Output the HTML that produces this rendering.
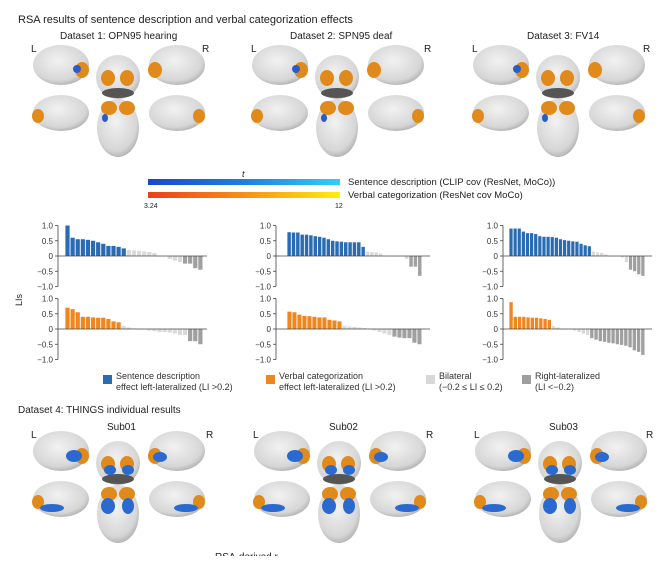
<!DOCTYPE html>
<html><head><meta charset="utf-8"><style>
body{margin:0;background:#fff;width:660px;height:556px;overflow:hidden}
svg{font-family:"Liberation Sans",sans-serif;}
</style></head><body>
<svg id="s" width="660" height="556" viewBox="0 0 660 556" xmlns="http://www.w3.org/2000/svg">
<defs>
<linearGradient id="gb" x1="0" x2="1"><stop offset="0" stop-color="#1848c8"/><stop offset="0.5" stop-color="#1e7fe0"/><stop offset="1" stop-color="#30d0f8"/></linearGradient>
<linearGradient id="go" x1="0" x2="1"><stop offset="0" stop-color="#e8401a"/><stop offset="0.5" stop-color="#f5901a"/><stop offset="1" stop-color="#ffee10"/></linearGradient>
<radialGradient id="br" cx="0.45" cy="0.4" r="0.7"><stop offset="0" stop-color="#f2f2f2"/><stop offset="0.7" stop-color="#d6d6d6"/><stop offset="1" stop-color="#9a9a9a"/></radialGradient>
<g id="brain">
 <ellipse cx="61" cy="65" rx="28" ry="20" fill="url(#br)"/>
 <ellipse cx="82" cy="70" rx="7" ry="8" fill="#e08a1c"/>
 <ellipse cx="77" cy="69" rx="4" ry="4" fill="#2a5cc8"/>
 <ellipse cx="118" cy="77" rx="22" ry="22" fill="url(#br)"/>
 <ellipse cx="108" cy="78" rx="7" ry="8" fill="#e08a1c"/>
 <ellipse cx="127" cy="78" rx="7" ry="8" fill="#e08a1c"/>
 <ellipse cx="118" cy="93" rx="16" ry="5" fill="#555"/>
 <ellipse cx="177" cy="65" rx="28" ry="20" fill="url(#br)"/>
 <ellipse cx="155" cy="70" rx="7" ry="8" fill="#e08a1c"/>
 <ellipse cx="61" cy="113" rx="28" ry="18" fill="url(#br)"/>
 <ellipse cx="38" cy="116" rx="6" ry="7" fill="#e08a1c"/>
 <ellipse cx="118" cy="128" rx="21" ry="29" fill="url(#br)"/>
 <ellipse cx="109" cy="108" rx="8" ry="7" fill="#e08a1c"/>
 <ellipse cx="127" cy="108" rx="8" ry="7" fill="#e08a1c"/>
 <ellipse cx="105" cy="118" rx="3" ry="4" fill="#2a5cc8"/>
 <ellipse cx="177" cy="113" rx="28" ry="18" fill="url(#br)"/>
 <ellipse cx="199" cy="116" rx="6" ry="7" fill="#e08a1c"/>
</g>
<g id="brain2">
 <use href="#brain"/>
 <ellipse cx="74" cy="70" rx="8" ry="6" fill="#2a6ad0"/>
 <ellipse cx="110" cy="84" rx="6" ry="5" fill="#2a6ad0"/>
 <ellipse cx="128" cy="84" rx="6" ry="5" fill="#2a6ad0"/>
 <ellipse cx="160" cy="71" rx="7" ry="5" fill="#2a6ad0"/>
 <ellipse cx="52" cy="122" rx="12" ry="4" fill="#2a6ad0"/>
 <ellipse cx="108" cy="120" rx="7" ry="8" fill="#2a6ad0"/>
 <ellipse cx="128" cy="120" rx="6" ry="8" fill="#2a6ad0"/>
 <ellipse cx="186" cy="122" rx="12" ry="4" fill="#2a6ad0"/>
</g>
</defs>
<text x="18" y="23" font-size="11" fill="#222">RSA results of sentence description and verbal categorization effects</text>
<g font-size="10" fill="#222">
<text x="60" y="39">Dataset 1: OPN95 hearing</text>
<text x="290" y="39">Dataset 2: SPN95 deaf</text>
<text x="527" y="39">Dataset 3: FV14</text>
<text x="31" y="52">L</text><text x="202" y="52">R</text>
<text x="251" y="52">L</text><text x="424" y="52">R</text>
<text x="472" y="52">L</text><text x="643" y="52">R</text>
</g>
<use href="#brain"/>
<use href="#brain" x="219"/>
<use href="#brain" x="440"/>
<text x="242" y="177" font-size="9" font-style="italic" fill="#222">t</text>
<rect x="148" y="179" width="192" height="6" fill="url(#gb)"/>
<rect x="148" y="192" width="192" height="6" fill="url(#go)"/>
<text x="144" y="208" font-size="7" fill="#222">3.24</text>
<text x="335" y="208" font-size="7" fill="#222">12</text>
<text x="348" y="185" font-size="9.5" fill="#222">Sentence description (CLIP cov (ResNet, MoCo))</text>
<text x="348" y="198" font-size="9.5" fill="#222">Verbal categorization (ResNet cov MoCo)</text>
<g id="charts"></g>
<text x="22" y="300" font-size="9" fill="#222" transform="rotate(-90 22 300)" text-anchor="middle">LIs</text>
<g font-size="9" fill="#333">
<rect x="103" y="375" width="9" height="9" fill="#2a6cb4"/>
<text x="116" y="379">Sentence description</text><text x="116" y="390">effect left-lateralized (LI &gt;0.2)</text>
<rect x="266" y="375" width="9" height="9" fill="#f0861e"/>
<text x="279" y="379">Verbal categorization</text><text x="279" y="390">effect left-lateralized (LI &gt;0.2)</text>
<rect x="426" y="375" width="9" height="9" fill="#d8d8d8"/>
<text x="439" y="379">Bilateral</text><text x="439" y="390">(−0.2 ≤ LI ≤ 0.2)</text>
<rect x="522" y="375" width="9" height="9" fill="#9e9e9e"/>
<text x="535" y="379">Right-lateralized</text><text x="535" y="390">(LI &lt;−0.2)</text>
</g>
<text x="18" y="413" font-size="10" fill="#222">Dataset 4: THINGS individual results</text>
<g font-size="10" fill="#222">
<text x="107" y="430">Sub01</text><text x="329" y="430">Sub02</text><text x="549" y="430">Sub03</text>
<text x="31" y="438">L</text><text x="206" y="438">R</text>
<text x="253" y="438">L</text><text x="426" y="438">R</text>
<text x="474" y="438">L</text><text x="646" y="438">R</text>
</g>
<use href="#brain2" y="386"/>
<use href="#brain2" x="221" y="386"/>
<use href="#brain2" x="442" y="386"/>
<text x="215" y="560" font-size="10" fill="#222">RSA-derived r</text>
</svg>
<script>
var NS="http://www.w3.org/2000/svg",g=document.getElementById("charts");
function el(t,a,txt){var e=document.createElementNS(NS,t);for(var k in a)e.setAttribute(k,a[k]);if(txt)e.textContent=txt;g.appendChild(e);}
var P=[
 {ax:58,x0:65,x1:203,end:207,top:[1,.6,.55,.55,.53,.5,.45,.4,.33,.33,.3,.25,.2,.18,.17,.15,.13,.1,0,0,-.1,-.15,-.2,-.25,-.25,-.4,-.45],bot:[.7,.65,.55,.4,.4,.38,.37,.37,.33,.25,.22,.1,.05,.02,0,0,-.05,-.07,-.1,-.1,-.12,-.15,-.2,-.2,-.4,-.4,-.5]},
 {ax:276,x0:287,x1:422,end:430,top:[.78,.77,.77,.7,.7,.68,.65,.63,.6,.55,.5,.48,.47,.45,.45,.45,.45,.3,.15,.13,.12,.08,0,0,0,0,-.02,-.1,-.35,-.35,-.65],bot:[.57,.55,.47,.43,.42,.4,.38,.38,.3,.28,.25,.1,.08,.07,.05,.03,0,-.05,-.1,-.15,-.2,-.25,-.28,-.3,-.3,-.45,-.5]},
 {ax:503,x0:509,x1:645,end:652,top:[.9,.9,.9,.8,.75,.75,.72,.65,.63,.63,.62,.6,.55,.52,.5,.48,.47,.4,.35,.32,.15,.12,.1,.05,0,0,0,-.05,-.2,-.45,-.5,-.6,-.65],bot:[.88,.4,.4,.4,.38,.37,.37,.35,.33,.3,.1,.05,0,0,-.02,-.05,-.1,-.15,-.2,-.3,-.35,-.4,-.42,-.45,-.47,-.5,-.52,-.55,-.6,-.7,-.75,-.85]}];
P.forEach(function(p){
 [[256,p.top,"#2a6cb4"],[329,p.bot,"#f0861e"]].forEach(function(c){
  var z=c[0],s=30.5,v=c[1],w=(p.x1-p.x0)/v.length;
  v.forEach(function(d,i){var col=d>0.2?c[2]:(d<-0.2?"#a0a0a0":"#dadada");var h=Math.abs(d)*s;
   el("rect",{x:p.x0+i*w+0.4,y:d>0?z-h:z,width:w-0.9,height:Math.max(h,0.5),fill:col});});
  el("line",{x1:p.ax,x2:p.end,y1:z,y2:z,stroke:"#444","stroke-width":0.8});
  el("line",{x1:p.ax,x2:p.ax,y1:z-s,y2:z+s,stroke:"#444","stroke-width":0.8});
  [1,.5,0,-.5,-1].forEach(function(t){var y=z-t*s;
   el("line",{x1:p.ax-3,x2:p.ax,y1:y,y2:y,stroke:"#444","stroke-width":0.8});
   el("text",{x:p.ax-5,y:y+3,"font-size":8,"text-anchor":"end",fill:"#333"},t==0?"0":(t<0?"−":"")+Math.abs(t).toFixed(1));});
 });
});
</script>
</body></html>
